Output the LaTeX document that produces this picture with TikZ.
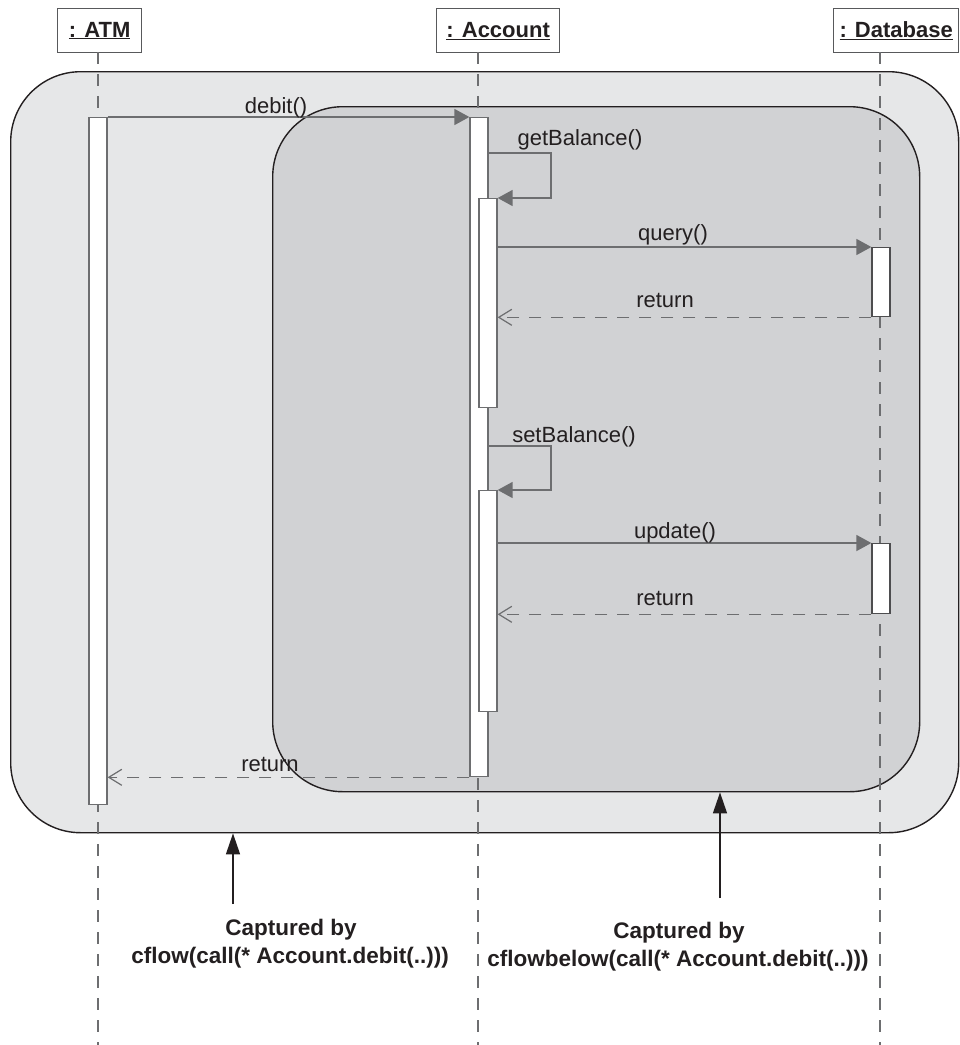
\documentclass[tikz,border=0pt]{standalone}
\usepackage{fontspec}
\setmainfont{Liberation Sans}
\usetikzlibrary{arrows.meta,calc}
\definecolor{outerfill}{HTML}{E6E7E8}
\definecolor{innerfill}{HTML}{D1D2D4}
\definecolor{linegray}{HTML}{6D6E70}
\definecolor{txt}{HTML}{231F20}
\definecolor{boxline}{HTML}{58595B}
\definecolor{dbline}{HTML}{4D4D4F}
\begin{document}
\begin{tikzpicture}[x=1pt,y=-1pt,
  header/.style={draw=boxline,line width=1.3pt,fill=white,inner sep=0pt,anchor=north west,
    text=txt,minimum height=44pt,font=\fontsize{22}{26}\selectfont\bfseries},
  region/.style={draw=txt,line width=1.4pt,rounded corners=70pt,inner sep=0pt,anchor=north west},
  lifeline/.style={draw=linegray,line width=1.3pt,dash pattern=on 12pt off 10pt},
  actbar/.style={draw=linegray,line width=1.3pt,fill=white,inner sep=0pt,minimum width=18pt,anchor=north},
  dbbar/.style={actbar,draw=dbline},
  msg/.style={draw=linegray,line width=1.6pt,-{Triangle[length=15pt,width=16pt]}},
  ret/.style={draw=linegray,line width=1.4pt,dash pattern=on 12pt off 10pt,
    -{Straight Barb[length=13pt,width=16pt,line width=1.2pt]}},
  lbl/.style={inner sep=0pt,anchor=base,text=txt,font=\fontsize{22}{26}\selectfont},
  note/.style={inner sep=0pt,anchor=base,text=txt,font=\fontsize{22.5}{27}\selectfont\bfseries},
  notearrow/.style={draw=txt,line width=1.5pt,-{Triangle[length=21pt,width=14pt]}}
]
\useasboundingbox (0,0) rectangle (960,1045);

% regions
\node[region,fill=outerfill,minimum width=948pt,minimum height=761pt] (outer) at (10,71) {};
\node[region,fill=innerfill,minimum width=647pt,minimum height=685pt] (inner) at (272,106) {};

% headers
\node[header,minimum width=84pt] (atm) at (57,8) {\underline{: ATM}};
\node[header,minimum width=123pt] (acc) at (436,8) {\underline{: Account}};
\node[header,minimum width=125pt] (db) at (833,8) {\underline{: Database}};

% lifelines
\coordinate (atmtop) at (98,52);
\coordinate (acctop) at (478,52);
\coordinate (dbtop) at (880,52);
\coordinate (atmend) at (98,1045);
\coordinate (accend) at (478,1045);
\coordinate (dbend) at (880,1045);
\draw[lifeline] (atmtop) -- (atmend);
\draw[lifeline] (acctop) -- (accend);
\draw[lifeline] (dbtop) -- (dbend);

% activation bars
\node[actbar,minimum height=687pt] (atmbar) at (98,117) {};
\node[actbar,minimum height=659pt] (accbar) at (479,117) {};
\node[actbar,minimum height=209pt] (accb1) at (488,198) {};
\node[actbar,minimum height=221pt] (accb2) at (488,490) {};
\node[dbbar,minimum height=69pt] (dbb1) at (881,247) {};
\node[dbbar,minimum height=70pt] (dbb2) at (881,543) {};

% messages
\draw[msg] (atmbar.north east) -- (accbar.north west);
\coordinate (gbs) at (488,153);
\draw[msg] (gbs) -- ++(63,0) |- (accb1.north east);
\draw[msg] (dbb1.north west -| accb1.east) -- (dbb1.north west);
\draw[ret] (dbb1.south west) -- (dbb1.south west -| accb1.east);
\coordinate (sbs) at (488,446);
\draw[msg] (sbs) -- ++(63,0) |- (accb2.north east);
\draw[msg] (dbb2.north west -| accb2.east) -- (dbb2.north west);
\draw[ret] (dbb2.south west) -- (dbb2.south west -| accb2.east);
\draw[ret] (accbar.south west) -- (accbar.south west -| atmbar.east);

% labels
\node[lbl] (l1) at (276,113) {debit()};
\node[lbl] (l2) at (580,145) {getBalance()};
\node[lbl] (l3) at (673,240) {query()};
\node[lbl] (l4) at (665,307) {return};
\node[lbl] (l5) at (574,442) {setBalance()};
\node[lbl] (l6) at (675,538) {update()};
\node[lbl] (l7) at (665,605) {return};
\node[lbl] (l8) at (270,771) {return};

% notes
\coordinate (n1) at (233,904);
\coordinate (n2) at (720,898);
\draw[notearrow] (n1) -- (n1 |- outer.south);
\draw[notearrow] (n2) -- (n2 |- inner.south);
\node[note] (t1a) at (291,935) {Captured by};
\node[note] (t1b) at (290,963) {cflow(call(* Account.debit(..)))};
\node[note] (t2a) at (679,938) {Captured by};
\node[note] (t2b) at (678,966) {cflowbelow(call(* Account.debit(..)))};
\end{tikzpicture}
\end{document}
